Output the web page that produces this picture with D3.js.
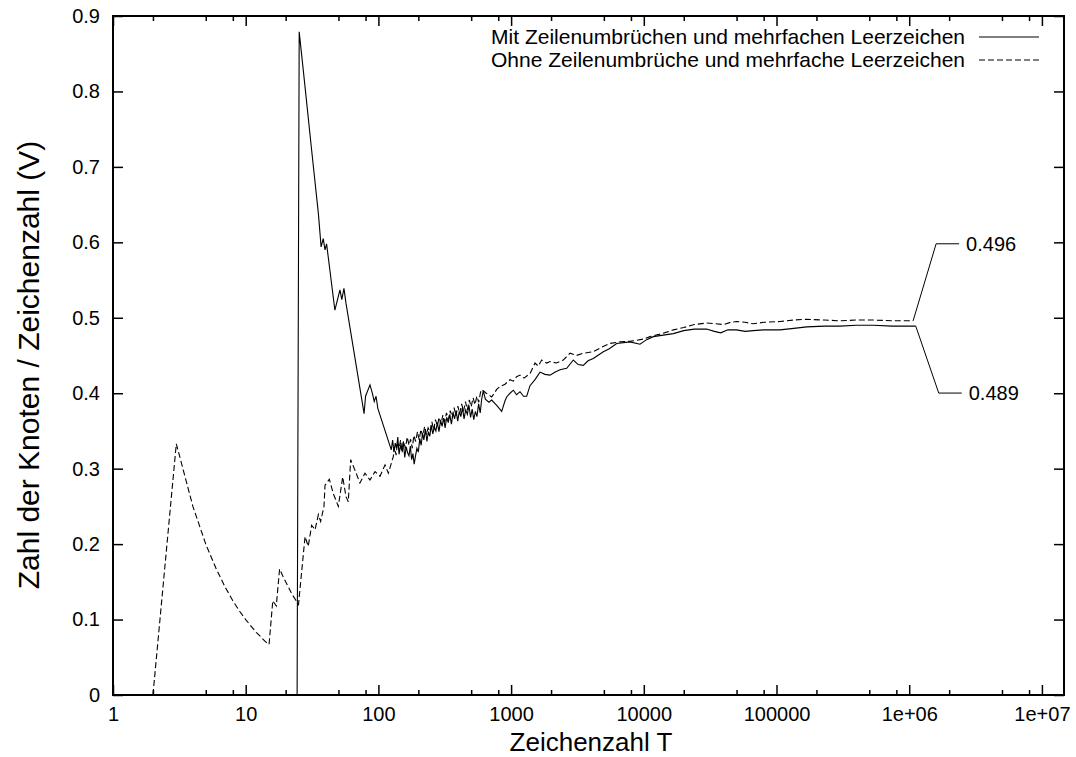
<!DOCTYPE html>
<html>
<head>
<meta charset="utf-8">
<script src="https://cdn.jsdelivr.net/npm/d3@7"></script>
<style>
  body { margin: 0; background: #fff; }
  svg { display: block; font-family: "Liberation Sans", Arial, Helvetica, sans-serif; }
</style>
</head>
<body>
<div id="container"></div>
<script>
// tick labels
var xTicks = [1, 10, 100, 1000, 10000, 100000, 1e6, 1e7],
    xTickLabels = ['1', '10', '100', '1000', '10000', '100000', '1e+06', '1e+07'],
    yTicks = [0, 0.1, 0.2, 0.3, 0.4, 0.5, 0.6, 0.7, 0.8, 0.9],
    yTickLabels = ['0', '0.1', '0.2', '0.3', '0.4', '0.5', '0.6', '0.7', '0.8', '0.9'];

var seriesNames = ['Mit Zeilenumbrüchen und mehrfachen Leerzeichen',
                   'Ohne Zeilenumbrüche und mehrfache Leerzeichen'];

// Mit Zeilenumbruechen (solid) : [T, V]
var mitData = [[24.4,0],[25.3,0.879],[28,0.806],[31.4,0.722],[35.3,0.638],[37,0.594],[38.4,0.605],[39.6,0.590],
  [40.7,0.598],[47,0.510],[51.3,0.537],[53,0.524],[55,0.539],[57,0.519],[78,0.373],[80,0.396],[86.4,0.411],
  [90,0.400],[93,0.389],[96,0.396],[99,0.380],[125,0.325],[128,0.338],[131,0.322],[134,0.334],[137,0.327],
  [140,0.342],[143,0.319],[147,0.331],[150,0.324],[154,0.336],[158,0.315],[162,0.329],[166,0.321],[170,0.317],
  [174,0.330],[178,0.312],[182,0.320],[186,0.306],[190,0.316],[195,0.327],[200,0.322],[205,0.340],[210,0.331],
  [215,0.347],[220,0.338],[226,0.352],[232,0.336],[238,0.349],[244,0.343],[250,0.357],[257,0.346],[264,0.355],
  [271,0.350],[278,0.361],[286,0.349],[294,0.364],[302,0.356],[310,0.367],[318,0.354],[327,0.368],[336,0.361],
  [345,0.372],[355,0.359],[365,0.374],[375,0.366],[385,0.377],[396,0.363],[407,0.376],[418,0.369],[430,0.381],
  [442,0.366],[455,0.378],[468,0.372],[481,0.384],[495,0.368],[509,0.379],[523,0.365],[538,0.376],[553,0.369],
  [569,0.386],[585,0.374],[600,0.392],[617,0.403],[640,0.392],[680,0.388],[714,0.391],[779,0.384],[849,0.376],
  [900,0.390],[927,0.395],[981,0.400],[1040,0.404],[1100,0.398],[1167,0.402],[1240,0.396],[1311,0.396],
  [1388,0.410],[1514,0.418],[1651,0.428],[1800,0.425],[1965,0.424],[2150,0.428],[2336,0.431],[2624,0.433],
  [2942,0.444],[3200,0.438],[3501,0.437],[3800,0.443],[4162,0.446],[4951,0.455],[5500,0.459],[6246,0.466],
  [7865,0.468],[9354,0.465],[10500,0.471],[11800,0.475],[14000,0.477],[16700,0.479],[20000,0.483],[24000,0.485],
  [29700,0.485],[34000,0.482],[38000,0.480],[43000,0.484],[50000,0.484],[58000,0.482],[66800,0.483],
  [80000,0.484],[106000,0.484],[135000,0.486],[169000,0.488],[230000,0.489],[301000,0.489],[400000,0.490],
  [536000,0.490],[750000,0.489],[1120000,0.489]];

// Ohne Zeilenumbrueche (dashed) : [T, V]
var ohneData = [[2,0],[3,0.333],[4,0.25],[5,0.2],[6,0.167],[7,0.143],[8,0.125],[9,0.111],[10,0.1],[11,0.091],
  [12,0.083],[13,0.077],[14,0.071],[15,0.067],[16,0.125],[17,0.118],[18,0.167],[19,0.158],[20,0.15],[21,0.143],
  [22,0.136],[23,0.13],[24,0.125],[25,0.12],[28,0.210],[29.6,0.197],[31.4,0.225],[33.3,0.219],[35.3,0.239],
  [36.7,0.230],[38.9,0.250],[39.6,0.278],[42.7,0.286],[45.7,0.267],[49.9,0.250],[53.8,0.289],[57,0.263],
  [59.3,0.256],[61.8,0.312],[66.6,0.298],[72.6,0.281],[79.2,0.294],[86.4,0.285],[94.3,0.296],[102.8,0.290],
  [112.2,0.305],[118.8,0.294],[129.5,0.316],[132,0.329],[136,0.318],[139,0.335],[143,0.326],[147,0.338],
  [151,0.322],[155,0.334],[160,0.328],[165,0.342],[170,0.331],[175,0.339],[180,0.327],[185,0.344],[191,0.336],
  [197,0.349],[203,0.338],[209,0.352],[216,0.343],[223,0.356],[230,0.345],[237,0.354],[245,0.349],[253,0.362],
  [261,0.351],[269,0.365],[278,0.357],[287,0.368],[296,0.359],[306,0.371],[316,0.362],[326,0.374],[337,0.365],
  [348,0.377],[360,0.368],[372,0.381],[384,0.370],[397,0.383],[410,0.373],[424,0.386],[438,0.376],[453,0.389],
  [468,0.378],[484,0.391],[500,0.382],[517,0.394],[534,0.385],[552,0.396],[570,0.388],[588,0.401],[600,0.405],
  [650,0.400],[714,0.395],[779,0.405],[825,0.409],[900,0.412],[981,0.418],[1040,0.416],[1100,0.422],
  [1167,0.424],[1250,0.420],[1388,0.426],[1514,0.440],[1600,0.436],[1701,0.444],[1850,0.440],[1965,0.442],
  [2200,0.440],[2474,0.444],[2778,0.453],[3100,0.450],[3501,0.453],[4162,0.455],[4815,0.461],[5563,0.466],
  [6614,0.468],[8000,0.469],[8832,0.470],[10000,0.472],[11140,0.475],[13000,0.478],[14870,0.481],[16700,0.484],
  [20000,0.487],[24000,0.491],[29700,0.493],[35000,0.492],[40000,0.491],[45000,0.494],[50000,0.495],
  [58000,0.494],[66800,0.492],[80000,0.494],[106000,0.495],[135000,0.497],[169000,0.498],[230000,0.497],
  [301000,0.496],[400000,0.497],[536000,0.497],[750000,0.496],[1070000,0.496]];

var endLabels = ['0.489', '0.496'];

var W = 1076, H = 757,
    mLeft = 113, mRight = 1064, mTop = 16, mBottom = 695;

var svg = d3.select('#container').append('svg')
    .attr('width', W)
    .attr('height', H);

svg.append('rect').attr('width', W).attr('height', H).attr('fill', '#fff');

var x = d3.scaleLog()
    .domain([1, 1.467e7])
    .range([mLeft, mRight]);

var y = d3.scaleLinear()
    .domain([0, 0.9])
    .range([mBottom, mTop]);

// minor ticks at 2, 5, 8 of each decade
var minorTicks = [];
xTicks.forEach(function(t) { [2, 5, 8].forEach(function(m) { if (t * m < 1.467e7) minorTicks.push(t * m); }); });

function noDomain(g) { g.select('.domain').remove(); }

svg.append('g')
    .attr('transform', 'translate(0,' + mBottom + ')')
    .call(d3.axisBottom(x).tickValues(xTicks).tickSize(-10).tickPadding(12)
        .tickFormat(function(d, i) { return xTickLabels[i]; }))
    .call(noDomain);
svg.append('g')
    .attr('transform', 'translate(0,' + mBottom + ')')
    .call(d3.axisBottom(x).tickValues(minorTicks).tickSize(-5).tickFormat(''))
    .call(noDomain);
svg.append('g')
    .attr('transform', 'translate(0,' + mTop + ')')
    .call(d3.axisTop(x).tickValues(xTicks).tickSize(-10).tickFormat(''))
    .call(noDomain);
svg.append('g')
    .attr('transform', 'translate(0,' + mTop + ')')
    .call(d3.axisTop(x).tickValues(minorTicks).tickSize(-5).tickFormat(''))
    .call(noDomain);
svg.append('g')
    .attr('transform', 'translate(' + mLeft + ',0)')
    .call(d3.axisLeft(y).tickValues(yTicks).tickSize(-10).tickPadding(13)
        .tickFormat(function(d, i) { return yTickLabels[i]; }))
    .call(noDomain);
svg.append('g')
    .attr('transform', 'translate(' + mRight + ',0)')
    .call(d3.axisRight(y).tickValues(yTicks).tickSize(-10).tickFormat(''))
    .call(noDomain);

svg.selectAll('.tick line').attr('stroke', '#000').attr('stroke-width', 1.5);
svg.selectAll('.tick text')
    .attr('fill', '#000')
    .style('font-size', '20px')
    .style('font-family', '"Liberation Sans", Arial, sans-serif');

// frame
svg.append('rect')
    .attr('x', mLeft).attr('y', mTop)
    .attr('width', mRight - mLeft).attr('height', mBottom - mTop)
    .attr('fill', 'none').attr('stroke', '#000').attr('stroke-width', 2);

var line = d3.line()
    .x(function(d) { return x(d[0]); })
    .y(function(d) { return y(d[1]); });

svg.append('path')
    .datum(mitData)
    .attr('d', line)
    .attr('fill', 'none').attr('stroke', '#000').attr('stroke-width', 1.1);

svg.append('path')
    .datum(ohneData)
    .attr('d', line)
    .attr('fill', 'none').attr('stroke', '#000').attr('stroke-width', 1.1)
    .attr('stroke-dasharray', '6,3');

// end value callouts
var mitEnd = mitData[mitData.length - 1],
    ohneEnd = ohneData[ohneData.length - 1];
var callouts = [
  {p: mitEnd, dy: 67, label: endLabels[0]},
  {p: ohneEnd, dy: -77, label: endLabels[1]}
];
callouts.forEach(function(c) {
  var x0 = x(c.p[0]), y0 = y(c.p[1]);
  svg.append('path')
      .attr('d', 'M' + x0 + ',' + y0 + 'L' + (x0 + 23) + ',' + (y0 + c.dy) + 'L' + (x0 + 46) + ',' + (y0 + c.dy))
      .attr('fill', 'none').attr('stroke', '#000').attr('stroke-width', 1);
  svg.append('text')
      .attr('x', x0 + 53).attr('y', y0 + c.dy)
      .attr('dy', '0.35em')
      .style('font-size', '20px')
      .text(c.label);
});

// legend
var legend = svg.append('g');
[0, 1].forEach(function(i) {
  var ly = 37 + i * 23;
  legend.append('text')
      .attr('x', 965).attr('y', ly).attr('dy', '0.35em')
      .attr('text-anchor', 'end')
      .style('font-size', '21px')
      .text(seriesNames[i]);
  legend.append('line')
      .attr('x1', 979).attr('x2', 1039).attr('y1', ly).attr('y2', ly)
      .attr('stroke', '#000').attr('stroke-width', 1)
      .attr('stroke-dasharray', i === 1 ? '6,3' : null);
});

// axis titles
svg.append('text')
    .attr('x', 591).attr('y', 751)
    .attr('text-anchor', 'middle')
    .style('font-size', '26px')
    .text('Zeichenzahl T');

svg.append('text')
    .attr('transform', 'translate(39,365) rotate(-90)')
    .attr('text-anchor', 'middle')
    .style('font-size', '30px')
    .text('Zahl der Knoten / Zeichenzahl (V)');
</script>
</body>
</html>
